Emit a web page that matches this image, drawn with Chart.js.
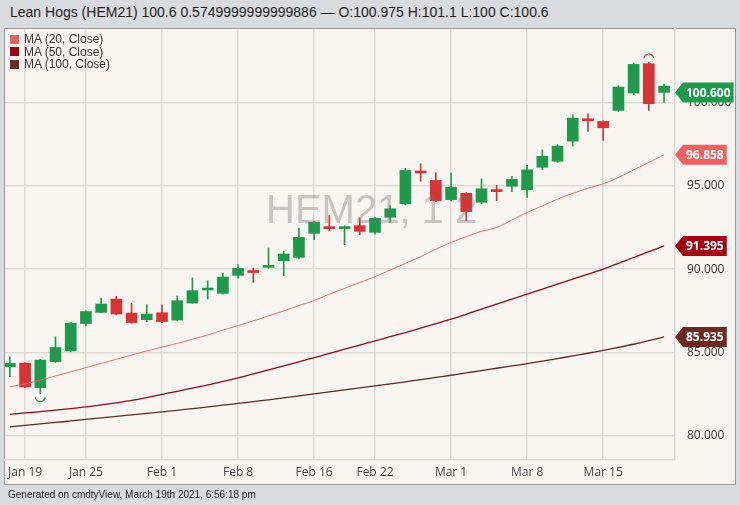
<!DOCTYPE html>
<html>
<head>
<meta charset="utf-8">
<script src="https://cdn.jsdelivr.net/npm/chart.js@4.4.1/dist/chart.umd.min.js"></script>
<style>
  html, body { margin: 0; padding: 0; }
  body { width: 740px; height: 505px; background: #d9dbde; position: relative; overflow: hidden; font-family: "Liberation Sans", Arial, sans-serif; }
  #title { position: absolute; left: 10px; top: 4px; font-size: 14px; color: #1f1f1f; white-space: nowrap; }
  #panel { position: absolute; left: 4px; top: 28px; width: 730px; height: 455px; background: #f9f6f1; border: 1px solid #9a9a9a; }
  #legend { position: absolute; left: 10px; top: 33px; font-size: 12px; color: #333; line-height: 12.5px; }
  #legend div { display: flex; align-items: center; }
  #legend span.sw { width: 9px; height: 9px; margin-right: 5px; display: inline-block; }
  #footer { position: absolute; left: 8px; top: 489px; font-size: 10px; color: #222; white-space: nowrap; }
  canvas { position: absolute; left: 0; top: 0; }
</style>
</head>
<body>
<div id="title">Lean Hogs (HEM21) 100.6 0.5749999999999886 — O:100.975 H:101.1 L:100 C:100.6</div>
<div id="panel"></div>
<canvas id="chart" width="740" height="505"></canvas>
<div id="legend"></div>
<div id="footer">Generated on cmdtyView, March 19th 2021, 6:56:18 pm</div>
<script>
// trading days shown on the chart
const days = ['Jan 15', 'Jan 19', 'Jan 20', 'Jan 21', 'Jan 22',
  'Jan 25', 'Jan 26', 'Jan 27', 'Jan 28', 'Jan 29',
  'Feb 1', 'Feb 2', 'Feb 3', 'Feb 4', 'Feb 5',
  'Feb 8', 'Feb 9', 'Feb 10', 'Feb 11', 'Feb 12',
  'Feb 16', 'Feb 17', 'Feb 18', 'Feb 19',
  'Feb 22', 'Feb 23', 'Feb 24', 'Feb 25', 'Feb 26',
  'Mar 1', 'Mar 2', 'Mar 3', 'Mar 4', 'Mar 5',
  'Mar 8', 'Mar 9', 'Mar 10', 'Mar 11', 'Mar 12',
  'Mar 15', 'Mar 16', 'Mar 17', 'Mar 18', 'Mar 19'];
const tickDays = ['Jan 19', 'Jan 25', 'Feb 1', 'Feb 8', 'Feb 16', 'Feb 22', 'Mar 1', 'Mar 8', 'Mar 15'];
const priceTicks = [80, 85, 90, 95, 100];

const open = [84.15, 84.37, 82.9, 84.46, 85.1,
  86.74, 87.41, 88.21, 87.37, 86.97,
  87.39, 86.95, 87.97, 88.75, 88.55,
  89.63, 89.85, 90.11, 90.51, 90.71,
  92.15, 92.52, 92.43, 92.61,
  92.21, 93.11, 93.92, 95.89, 95.32,
  94.17, 94.55, 94.01, 94.71, 94.97,
  94.76, 96.11, 96.47, 97.68, 99.02,
  98.86, 99.52, 100.56, 102.32, 100.975];
const high = [84.75, 84.4, 84.6, 85.95, 86.8,
  87.5, 88.27, 88.37, 87.95, 87.87,
  87.87, 88.39, 89.47, 89.31, 89.77,
  90.27, 90.07, 91.27, 91.07, 92.47,
  92.85, 93.21, 92.6, 93.08,
  93.11, 93.81, 96.05, 96.32, 95.78,
  95.78, 94.6, 95.42, 95.02, 95.57,
  96.22, 97.16, 97.46, 99.26, 99.32,
  98.9, 101.0, 102.36, 102.42, 101.1];
const low = [83.55, 82.9, 82.54, 84.4, 85.05,
  86.6, 87.4, 87.25, 86.75, 86.85,
  86.8, 86.9, 87.95, 88.21, 88.5,
  89.45, 89.21, 90.05, 89.61, 90.65,
  91.77, 92.31, 91.47, 92.07,
  92.1, 92.81, 93.85, 95.27, 94.05,
  94.1, 92.91, 93.92, 94.11, 94.65,
  94.31, 95.96, 96.4, 97.38, 98.26,
  97.72, 99.45, 100.46, 99.52, 100.0];
const close = [84.35, 82.94, 84.55, 85.3, 86.77,
  87.46, 87.91, 87.31, 86.8, 87.31,
  86.86, 88.11, 88.71, 88.87, 89.53,
  90.05, 89.8, 90.17, 90.91, 91.91,
  92.81, 92.43, 92.55, 92.27,
  93.05, 93.62, 95.92, 95.77, 94.11,
  94.91, 93.45, 94.82, 94.65, 95.38,
  95.96, 96.77, 97.38, 99.06, 98.9,
  98.48, 100.92, 102.28, 99.92, 100.6];

const ma20 = [82.95, 83.12, 83.35, 83.6, 83.85,
  84.1, 84.35, 84.6, 84.85, 85.1,
  85.33, 85.55, 85.8, 86.05, 86.35,
  86.62, 86.9, 87.2, 87.5, 87.82,
  88.12, 88.5, 88.85, 89.2,
  89.55, 89.95, 90.35, 90.75, 91.2,
  91.6, 91.95, 92.27, 92.5, 92.95,
  93.4, 93.8, 94.2, 94.55, 94.85,
  95.12, 95.5, 95.95, 96.4, 96.858];
const ma50 = [81.3, 81.38, 81.46, 81.55, 81.64,
  81.74, 81.86, 81.99, 82.13, 82.3,
  82.5, 82.68, 82.87, 83.06, 83.27,
  83.48, 83.72, 83.96, 84.2, 84.45,
  84.7, 84.95, 85.2, 85.45,
  85.7, 85.95, 86.2, 86.46, 86.73,
  87.0, 87.3, 87.6, 87.9, 88.2,
  88.5, 88.8, 89.1, 89.4, 89.7,
  90.0, 90.35, 90.7, 91.05, 91.395];
const ma100 = [80.54, 80.63, 80.72, 80.81, 80.9,
  81.0, 81.09, 81.18, 81.26, 81.35,
  81.44, 81.54, 81.64, 81.74, 81.85,
  81.95, 82.06, 82.17, 82.28, 82.4,
  82.52, 82.64, 82.76, 82.88,
  83.0, 83.12, 83.25, 83.38, 83.51,
  83.64, 83.78, 83.92, 84.06, 84.2,
  84.34, 84.49, 84.64, 84.8, 84.96,
  85.13, 85.31, 85.5, 85.71, 85.935];

const upColor = '#1f9a4b';
const downColor = '#d83334';
const candleColors = close.map((c, i) => {
  const prev = i === 0 ? open[0] : close[i - 1];
  return c >= prev ? upColor : downColor;
});

const maSeries = [
  { label: 'MA (20, Close)', values: ma20, color: '#ea6b6b', swatch: '#ec5c5c', tag: '#f06262', width: 1 },
  { label: 'MA (50, Close)', values: ma50, color: '#8e0b1c', swatch: '#a10012', tag: '#a30012', width: 1.3 },
  { label: 'MA (100, Close)', values: ma100, color: '#5e2a26', swatch: '#6b2b25', tag: '#6d2a22', width: 1.3 }
];

// html legend
const legendEl = document.getElementById('legend');
maSeries.forEach(s => {
  const row = document.createElement('div');
  row.innerHTML = '<span class="sw" style="background:' + s.swatch + '"></span>' + s.label;
  legendEl.appendChild(row);
});

const idx = days.map((d, i) => i);

const overlay = {
  id: 'overlay',
  afterDatasetsDraw(chart) {
    const ctx = chart.ctx;
    const area = chart.chartArea;
    const x = chart.scales.x, y = chart.scales.y;
    // watermark
    ctx.save();
    ctx.beginPath();
    ctx.rect(area.left, area.top, area.right - area.left, area.bottom - area.top);
    ctx.clip();
    ctx.font = '40px "Liberation Sans", Arial, sans-serif';
    ctx.fillStyle = 'rgba(110,110,110,0.36)';
    ctx.textBaseline = 'alphabetic';
    ctx.textAlign = 'left';
    ctx.fillText('HEM21, 1 2', 266, 223);
    // high / low markers
    const hi = high.indexOf(Math.max(...high));
    const lo = low.indexOf(Math.min(...low));
    ctx.lineWidth = 1.2;
    ctx.strokeStyle = downColor;
    ctx.beginPath();
    ctx.arc(x.getPixelForValue(hi), y.getPixelForValue(high[hi]) - 3, 5, Math.PI * 1.05, Math.PI * 1.95);
    ctx.stroke();
    ctx.strokeStyle = upColor;
    ctx.beginPath();
    ctx.arc(x.getPixelForValue(lo), y.getPixelForValue(low[lo]) + 3, 5, Math.PI * 0.05, Math.PI * 0.95);
    ctx.stroke();
    ctx.restore();
  },
  afterDraw(chart) {
    const ctx = chart.ctx;
    const y = chart.scales.y;
    const x0 = chart.chartArea.right;
    const tags = [{ v: close[close.length - 1], c: candleColors[candleColors.length - 1] }]
      .concat(maSeries.map(s => ({ v: s.values[s.values.length - 1], c: s.tag })));
    ctx.save();
    ctx.font = 'bold 12px "Open Sans", sans-serif';
    ctx.textBaseline = 'middle';
    ctx.textAlign = 'left';
    tags.forEach(t => {
      const py = y.getPixelForValue(t.v);
      const txt = t.v.toFixed(3);
      const tw = ctx.measureText(txt).width;
      const xr = x0 + 8 + tw + 6;
      ctx.fillStyle = t.c;
      ctx.beginPath();
      ctx.moveTo(x0, py);
      ctx.lineTo(x0 + 8, py - 10);
      ctx.lineTo(xr, py - 10);
      ctx.lineTo(xr, py + 10);
      ctx.lineTo(x0 + 8, py + 10);
      ctx.closePath();
      ctx.fill();
      ctx.fillStyle = '#fff';
      ctx.fillText(txt, x0 + 11, py + 1);
    });
    ctx.restore();
  }
};

const gridColor = '#dedbd6';

new Chart(document.getElementById('chart'), {
  type: 'bar',
  data: {
    datasets: [
      {
        label: 'wick',
        data: idx.map(i => ({ x: i, y: [low[i], high[i]] })),
        backgroundColor: candleColors,
        barThickness: 1,
        grouped: false,
        order: 3
      },
      {
        label: 'body',
        data: idx.map(i => ({ x: i, y: [Math.min(open[i], close[i]), Math.max(open[i], close[i])] })),
        backgroundColor: candleColors,
        barThickness: 11,
        minBarLength: 2,
        grouped: false,
        order: 2
      }
    ].concat(maSeries.map(s => ({
      type: 'line',
      label: s.label,
      data: idx.map(i => ({ x: i, y: s.values[i] })),
      borderColor: s.color,
      borderWidth: s.width,
      pointRadius: 0,
      tension: 0.3,
      order: 1
    })))
  },
  options: {
    responsive: false,
    animation: false,
    layout: { padding: { left: 5, top: 29, right: 5, bottom: 20 } },
    plugins: {
      legend: { display: false },
      tooltip: { enabled: false }
    },
    scales: {
      x: {
        type: 'linear',
        offset: false,
        min: -0.32,
        max: 43.72,
        afterBuildTicks: (scale) => {
          scale.ticks = tickDays.map(d => ({ value: days.indexOf(d) }));
        },
        afterFit: (scale) => { scale.height = 25; },
        grid: { color: gridColor, lineWidth: 1.5, drawTicks: false, offset: false },
        border: { color: gridColor, width: 1.5 },
        ticks: {
          autoSkip: false,
          maxRotation: 0,
          padding: 5,
          color: '#444',
          font: { family: '"Open Sans", sans-serif', size: 12 },
          callback: (v) => days[v]
        }
      },
      y: {
        position: 'right',
        min: 78.56,
        max: 104.4,
        afterBuildTicks: (scale) => {
          scale.ticks = priceTicks.map(v => ({ value: v }));
        },
        afterFit: (scale) => { scale.width = 60; },
        grid: { color: gridColor, lineWidth: 1.5, drawTicks: false },
        border: { color: gridColor, width: 1.5 },
        ticks: {
          padding: 12,
          color: '#333',
          font: { family: '"Open Sans", sans-serif', size: 12 },
          callback: (v) => v.toFixed(3)
        }
      }
    }
  },
  plugins: [overlay]
});
</script>
</body>
</html>
